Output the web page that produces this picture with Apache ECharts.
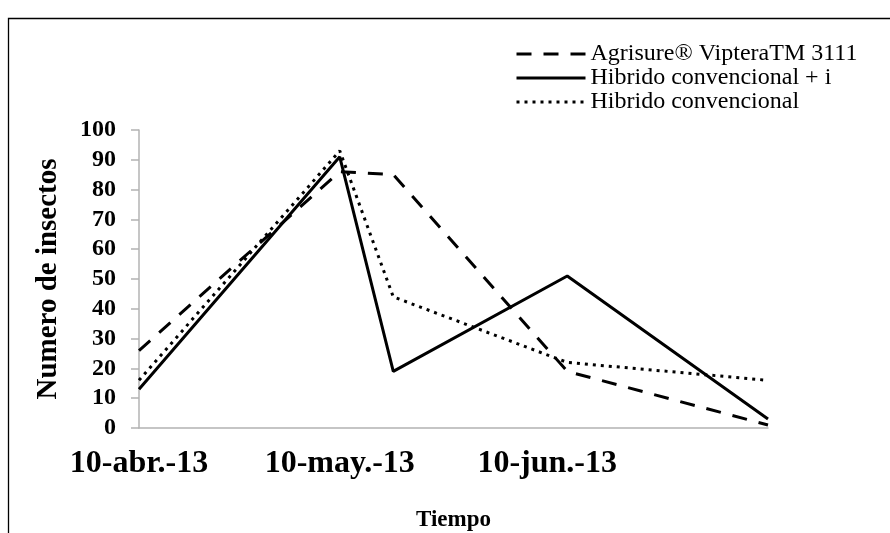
<!DOCTYPE html>
<html>
<head>
<meta charset="utf-8">
<script src="https://cdn.jsdelivr.net/npm/echarts@6/dist/echarts.min.js"></script>
<style>html,body{margin:0;padding:0;background:#fff}#c{width:890px;height:533px}</style>
</head>
<body>
<div id="c"></div>
<script>
const dates = ['2013-04-10', '2013-05-10', '2013-05-18', '2013-06-13', '2013-07-13'];
const agrisure = [26, 86, 85, 19, 1];
const hibridoI = [13, 91, 19, 51, 3];
const hibrido = [16, 93, 44, 22, 16];
const seriesNames = ['Agrisure® VipteraTM 3111', 'Hibrido convencional + i', 'Hibrido convencional'];
const tickDates = ['2013-04-10', '2013-05-10', '2013-06-10'];
const tickLabels = ['10-abr.-13', '10-may.-13', '10-jun.-13'];
const axisStart = '2013-04-10';
const axisEnd = '2013-07-13';

function ts(s) { const p = s.split('-').map(Number); return Date.UTC(p[0], p[1] - 1, p[2]); }
function pairs(vals) { return dates.map((d, i) => [ts(d), vals[i]]); }
const tickTs = tickDates.map(ts);
const DAY = 86400000;

const font = '"Liberation Serif", "Times New Roman", serif';
const chart = echarts.init(document.getElementById('c'));
chart.setOption({
  animation: false,
  backgroundColor: '#fff',
  textStyle: { fontFamily: font, color: '#000' },
  graphic: [{
    type: 'rect', shape: { x: 8.5, y: 18.5, width: 1000, height: 1000 },
    style: { fill: 'none', stroke: '#000', lineWidth: 1.3 }, silent: true
  }],
  grid: { left: 139, right: 122, top: 130, bottom: 105, outerBoundsMode: 'none', containLabel: false },
  legend: {
    orient: 'vertical', left: 510, top: 37, itemWidth: 69, itemHeight: 14, itemGap: 0,
    itemStyle: { opacity: 0 },
    lineStyle: { width: 3 },
    textStyle: { fontFamily: font, fontSize: 24, color: '#000' },
    data: seriesNames
  },
  xAxis: {
    type: 'value', min: ts(axisStart), max: ts(axisEnd), interval: DAY,
    name: 'Tiempo', nameLocation: 'middle', nameGap: 81,
    nameTextStyle: { fontFamily: font, fontSize: 23, fontWeight: 'bold', color: '#000' },
    axisLine: { lineStyle: { color: '#b3b3b3', width: 1.5 } },
    axisTick: { show: false },
    splitLine: { show: false },
    axisLabel: {
      margin: 20, fontFamily: font, fontSize: 32, fontWeight: 'bold', color: '#000',
      showMinLabel: true, showMaxLabel: false, hideOverlap: false, interval: 0,
      formatter: function (v) { const i = tickTs.indexOf(v); return i >= 0 ? tickLabels[i] : ''; }
    }
  },
  yAxis: {
    type: 'value', min: 0, max: 100, interval: 10,
    name: 'Numero de insectos', nameLocation: 'middle', nameGap: 76, nameRotate: 90,
    nameTextStyle: { fontFamily: font, fontSize: 29, fontWeight: 'bold', color: '#000' },
    axisLine: { show: true, lineStyle: { color: '#b3b3b3', width: 1.5 } },
    axisTick: { show: true, length: 8, lineStyle: { color: '#b3b3b3', width: 1.5 } },
    splitLine: { show: false },
    axisLabel: { margin: 23, fontFamily: font, fontSize: 24, fontWeight: 'bold', color: '#000' }
  },
  series: [
    { name: seriesNames[0], type: 'line', data: pairs(agrisure), symbol: 'none',
      lineStyle: { color: '#000', width: 3, type: [15, 12] }, itemStyle: { color: '#000' } },
    { name: seriesNames[1], type: 'line', data: pairs(hibridoI), symbol: 'none',
      lineStyle: { color: '#000', width: 3, type: 'solid' }, itemStyle: { color: '#000' } },
    { name: seriesNames[2], type: 'line', data: pairs(hibrido), symbol: 'none',
      lineStyle: { color: '#000', width: 3, type: [3, 5] }, itemStyle: { color: '#000' } }
  ]
});
</script>
</body>
</html>
